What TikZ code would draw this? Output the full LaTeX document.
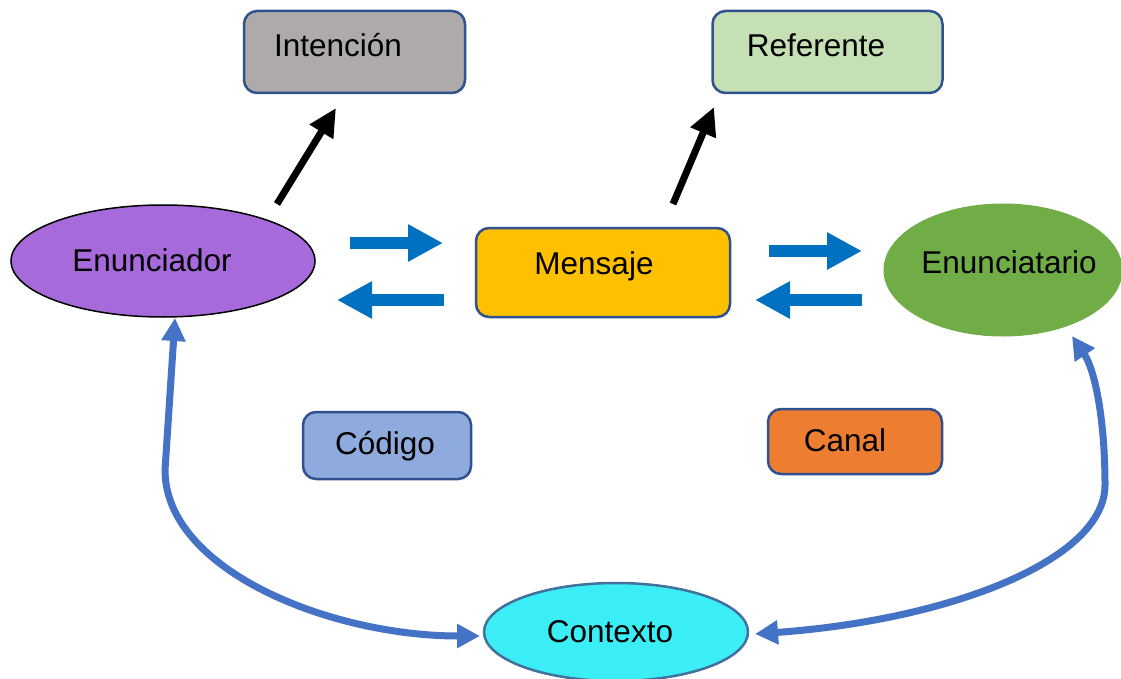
\documentclass[tikz,border=0pt]{standalone}
\usepackage{fontspec}
\setmainfont{Liberation Sans}
\usetikzlibrary{arrows.meta,shapes.geometric}
\definecolor{bordblue}{HTML}{2F528F}
\definecolor{intgray}{HTML}{AEAAAA}
\definecolor{refgreen}{HTML}{C5E0B4}
\definecolor{enpurple}{HTML}{A66ADA}
\definecolor{mensyel}{HTML}{FFC000}
\definecolor{eogreen}{HTML}{70AD47}
\definecolor{codblue}{HTML}{8FAADC}
\definecolor{canorange}{HTML}{ED7D31}
\definecolor{ctxcyan}{HTML}{3BEEF5}
\definecolor{ctxbord}{HTML}{41719C}
\definecolor{curveblue}{HTML}{4472C4}
\definecolor{arrblue}{HTML}{0070C0}
\tikzset{
  box/.style={draw=bordblue, line width=2.5pt, rounded corners=13pt, inner sep=0pt},
  lbl/.style={anchor=base, inner sep=0pt, font=\fontsize{31.5}{36}\selectfont},
  blackarr/.style={line width=7pt, -{Triangle[length=28pt,width=26pt]}},
  bluearr/.style={draw=arrblue, line width=12pt, -{Triangle[length=35pt,width=35pt]}},
  curvearr/.style={draw=curveblue, line width=7pt, {Triangle[length=23pt,width=23pt]}-{Triangle[length=23pt,width=23pt]}}
}
\begin{document}
\begin{tikzpicture}[x=1pt,y=-1pt]
\useasboundingbox (0,0) rectangle (1121,679);
% boxes
\node[box, fill=intgray, minimum width=221pt, minimum height=82pt] (int) at (354.5,52) {};
\node[lbl] (intt) at (338,57) {Intención};
\node[box, fill=refgreen, minimum width=230pt, minimum height=82pt] (ref) at (827.5,52) {};
\node[lbl] (reft) at (816,57) {Referente};
\node[box, fill=mensyel, minimum width=254pt, minimum height=89pt] (men) at (603,272.5) {};
\node[lbl] (ment) at (594,274) {Mensaje};
\node[box, fill=codblue, minimum width=168pt, minimum height=67pt] (cod) at (387,445.5) {};
\node[lbl] (codt) at (385,454) {Código};
\node[box, fill=canorange, minimum width=174pt, minimum height=65pt] (can) at (855,441.5) {};
\node[lbl] (cant) at (845,451) {Canal};
% ellipses
\node[ellipse, draw=black, line width=1.5pt, fill=enpurple, minimum width=304pt, minimum height=112pt, inner sep=0pt] (en) at (163,261) {};
\node[lbl] (ent) at (152,271) {Enunciador};
\node[ellipse, draw=eogreen, line width=1pt, fill=eogreen, minimum width=238pt, minimum height=132pt, inner sep=0pt] (eo) at (1003,270) {};
\node[lbl] (eot) at (1009,273) {Enunciatario};
\node[ellipse, draw=ctxbord, line width=2.5pt, fill=ctxcyan, minimum width=264pt, minimum height=98pt, inner sep=0pt] (ctx) at (616,632) {};
\node[lbl] (ctxt) at (610,642) {Contexto};
% black arrows
\coordinate (b1s) at (277,204);
\coordinate (b1e) at (336,108);
\coordinate (b2s) at (673,204);
\coordinate (b2e) at (714,107);
\draw[blackarr] (b1s) -- (b1e);
\draw[blackarr] (b2s) -- (b2e);
% blue straight arrows
\coordinate (u1s) at (350,243);
\coordinate (u1e) at (443,243);
\coordinate (u2s) at (444,300);
\coordinate (u2e) at (337,300);
\coordinate (u3s) at (769,251);
\coordinate (u3e) at (862,251);
\coordinate (u4s) at (862,300);
\coordinate (u4e) at (755,300);
\draw[bluearr] (u1s) -- (u1e);
\draw[bluearr] (u2s) -- (u2e);
\draw[bluearr] (u3s) -- (u3e);
\draw[bluearr] (u4s) -- (u4e);
% curved arrows
\coordinate (lt) at (175,318);
\coordinate (lc) at (480,636);
\draw[curvearr] (lt) -- (165,470) .. controls (165,570) and (330,636) .. (lc);
\coordinate (rt) at (1072,336);
\coordinate (rc) at (755,634);
\draw[curvearr] (rc) .. controls (950,620) and (1105,560) .. (1105,485) .. controls (1105,420) and (1095,370) .. (rt);
\end{tikzpicture}
\end{document}
